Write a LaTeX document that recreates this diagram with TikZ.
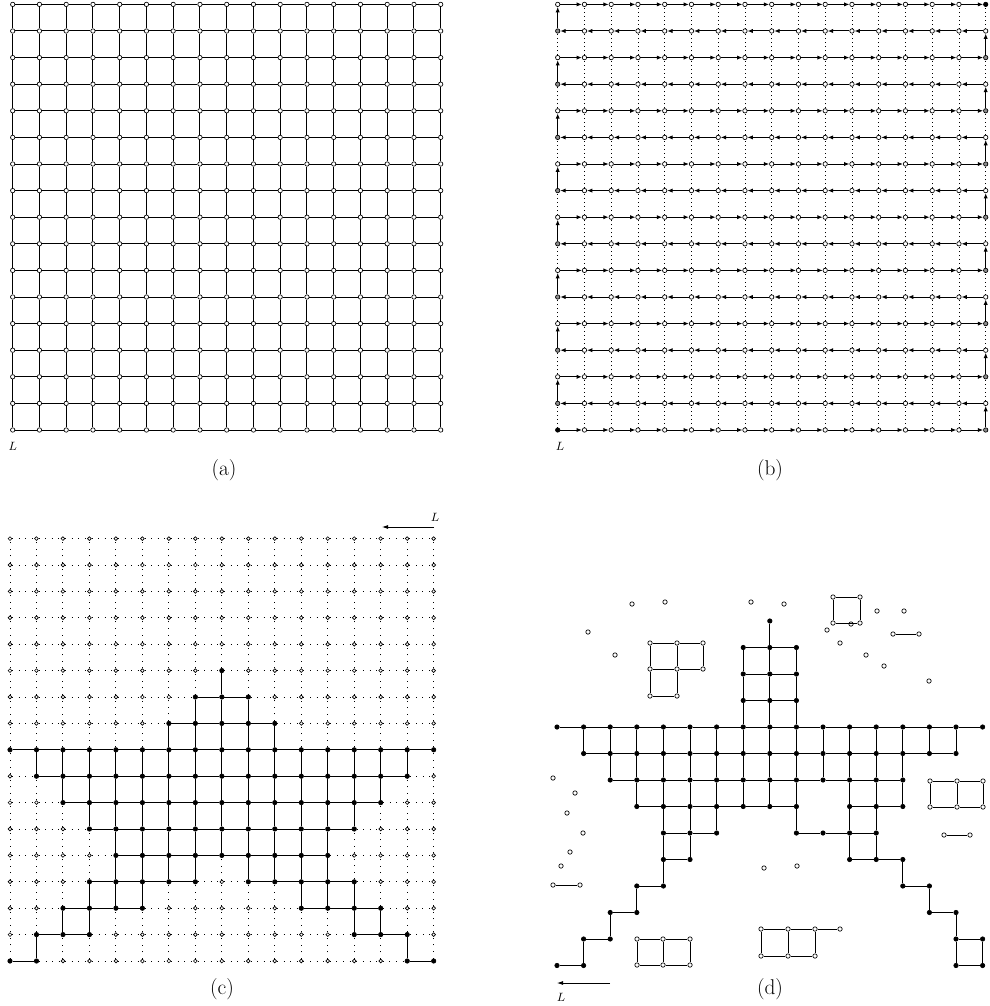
\documentclass[tikz,border=0pt]{standalone}
\usetikzlibrary{arrows.meta}
\begin{document}
\begin{tikzpicture}[x=0.75pt,y=-0.75pt,
  vtx/.style={circle,draw=black,line width=0.5pt,fill=white,inner sep=0pt,minimum size=3.3pt},
  svtx/.style={vtx,minimum size=2.8pt},
  bvtx/.style={vtx,fill=black},
  gvtx/.style={vtx,fill=black!45},
  edge/.style={line width=0.75pt},
  tedge/.style={line width=0.5pt},
  dotx/.style={line width=0.7pt,dash pattern=on 0.7pt off 4.2pt},
  doty/.style={line width=0.6pt,dash pattern=on 0.6pt off 2.4pt},
  arr/.style={edge,-{Latex[length=4pt,width=3.2pt]}},
  larr/.style={line width=0.6pt,-{Latex[length=4.5pt,width=3pt]}},
  panel/.style={font=\fontsize{16}{19}\selectfont},
  lbl/.style={font=\fontsize{9}{11}\selectfont}
]
\useasboundingbox (0,0) rectangle (989,1006);

% ---------------- (a) ----------------
\foreach \i in {0,...,16}{\foreach \j in {0,...,16}{
  \node[vtx] (a-\i-\j) at ({12.7+26.75*\i},{430-26.6*\j}) {};}}
\foreach \i in {0,...,15}{\foreach \j in {0,...,16}{
  \pgfmathtruncatemacro\nx{\i+1}
  \draw[edge] (a-\i-\j) -- (a-\nx-\j);
  \draw[edge] (a-\j-\i) -- (a-\j-\nx);}}
\node[lbl] (La) at (12.7,446) {$L$};
\node[panel] (capa) at (224,470) {(a)};

% ---------------- (b) ----------------
\foreach \i in {0,...,16}{\foreach \j in {0,...,16}{
  \pgfmathtruncatemacro\k{0}
  \ifnum\i=16 \ifodd\j\else\pgfmathtruncatemacro\k{1}\fi\fi
  \ifnum\i=0 \ifodd\j\pgfmathtruncatemacro\k{1}\fi\fi
  \ifnum\i=0 \ifnum\j=0 \pgfmathtruncatemacro\k{2}\fi\fi
  \ifnum\i=16 \ifnum\j=16 \pgfmathtruncatemacro\k{2}\fi\fi
  \ifcase\k
    \node[vtx] (b-\i-\j) at ({557.7+26.75*\i},{430-26.6*\j}) {};
  \or
    \node[gvtx] (b-\i-\j) at ({557.7+26.75*\i},{430-26.6*\j}) {};
  \or
    \node[bvtx] (b-\i-\j) at ({557.7+26.75*\i},{430-26.6*\j}) {};
  \fi}}
\foreach \j in {0,...,16}{\foreach \i in {0,...,15}{
  \pgfmathtruncatemacro\nx{\i+1}
  \ifodd\j \draw[arr] (b-\nx-\j) -- (b-\i-\j);
  \else \draw[arr] (b-\i-\j) -- (b-\nx-\j); \fi}}
\foreach \i in {0,...,16}{\foreach \j in {0,...,15}{
  \pgfmathtruncatemacro\ny{\j+1}
  \pgfmathtruncatemacro\onp{0}
  \ifnum\i=16 \ifodd\j\else\pgfmathtruncatemacro\onp{1}\fi\fi
  \ifnum\i=0 \ifodd\j\pgfmathtruncatemacro\onp{1}\fi\fi
  \ifnum\onp=1 \draw[arr] (b-\i-\j) -- (b-\i-\ny);
  \else \draw[doty] (b-\i-\j) -- (b-\i-\ny); \fi}}
\node[lbl] (Lb) at (560,446) {$L$};
\node[panel] (capb) at (770,470) {(b)};

% ---------------- (c) ----------------
\foreach \j/\a/\b in {0/0/1,0/15/16,1/1/3,1/13/15,2/2/5,2/11/14,3/3/7,3/9/13,
  4/4/12,5/3/13,6/2/14,7/1/15,8/0/16,9/6/10,10/7/9,11/8/8}{
  \foreach \i in {\a,...,\b}{\expandafter\gdef\csname cb-\i-\j\endcsname{x}}}
\foreach \i in {0,...,16}{\foreach \j in {0,...,16}{
  \ifcsname cb-\i-\j\endcsname
    \node[bvtx] (c-\i-\j) at ({10+26.48*\i},{961-26.4*\j}) {};
  \else
    \node[svtx] (c-\i-\j) at ({10+26.48*\i},{961-26.4*\j}) {};
  \fi}}
\foreach \i in {0,...,15}{\foreach \j in {0,...,16}{
  \pgfmathtruncatemacro\nx{\i+1}
  \def\st{0}
  \ifcsname cb-\i-\j\endcsname\ifcsname cb-\nx-\j\endcsname\def\st{1}\fi\fi
  \if1\st \draw[edge] (c-\i-\j) -- (c-\nx-\j); \else \draw[dotx] (c-\i-\j) -- (c-\nx-\j); \fi
  \def\st{0}
  \ifcsname cb-\j-\i\endcsname\ifcsname cb-\j-\nx\endcsname\def\st{1}\fi\fi
  \if1\st \draw[edge] (c-\j-\i) -- (c-\j-\nx); \else \draw[dotx] (c-\j-\i) -- (c-\j-\nx); \fi}}
\coordinate (cLs) at (434,527);
\coordinate (cLe) at (382,527);
\draw[larr] (cLs) -- (cLe);
\node[lbl] (Lc) at (435,517) {$L$};
\node[panel] (capc) at (222,989) {(c)};

% ---------------- (d) ----------------
\foreach \r/\a/\b in {-4/8/8,-3/7/9,-2/7/9,-1/7/9,0/0/16,1/1/15,2/2/13,3/3/9,3/11/13,
  4/4/6,4/9/12,5/4/5,5/11/13,6/3/4,6/13/14,7/2/3,7/14/15,8/1/2,8/15/16,9/0/1,9/15/16}{
  \foreach \i in {\a,...,\b}{\expandafter\gdef\csname db-\i-\r\endcsname{x}
   \node[bvtx] (d-\i-\r) at ({557+26.6*\i},{727+26.5*\r}) {};}}
\foreach \i in {0,...,15}{\foreach \r in {-4,...,9}{
  \pgfmathtruncatemacro\nx{\i+1}
  \ifcsname db-\i-\r\endcsname\ifcsname db-\nx-\r\endcsname
    \draw[edge] (d-\i-\r) -- (d-\nx-\r);\fi\fi}}
\foreach \i in {0,...,16}{\foreach \r in {-4,...,8}{
  \pgfmathtruncatemacro\ny{\r+1}
  \ifcsname db-\i-\r\endcsname\ifcsname db-\i-\ny\endcsname
    \draw[edge] (d-\i-\r) -- (d-\i-\ny);\fi\fi}}
% isolated white vertices
\foreach \x/\y [count=\n] in {632/604,665/602,751/602,784/604,588/632,615/655,
  827/630,851/624,877/611,904/611,840/643,866/655,884/666,929/681,
  553/778,575/793,567/813,583/833,570/852,561/866,764/868,797/866}{
  \node[vtx] (w\n) at (\x,\y) {};}
% top-right square
\node[vtx] (s1) at (833,597) {}; \node[vtx] (s2) at (860,597) {};
\node[vtx] (s3) at (833,623) {}; \node[vtx] (s4) at (860,623) {};
\draw[tedge] (s1)--(s2)--(s4)--(s3)--(s1);
% top-left block
\node[vtx] (t1) at (650,643) {}; \node[vtx] (t2) at (677,643) {}; \node[vtx] (t3) at (703,643) {};
\node[vtx] (t4) at (650,669) {}; \node[vtx] (t5) at (677,669) {}; \node[vtx] (t6) at (703,669) {};
\node[vtx] (t7) at (650,696) {}; \node[vtx] (t8) at (677,696) {};
\draw[tedge] (t1)--(t2)--(t3)--(t6)--(t5)--(t4)--(t1) (t2)--(t5)
  (t4)--(t7)--(t8)--(t5);
% dimers
\node[vtx] (m1) at (893,634) {}; \node[vtx] (m2) at (919,634) {}; \draw[tedge] (m1)--(m2);
\node[vtx] (m3) at (944,835) {}; \node[vtx] (m4) at (970,835) {}; \draw[tedge] (m3)--(m4);
\node[vtx] (m5) at (553,885) {}; \node[vtx] (m6) at (580,885) {}; \draw[tedge] (m5)--(m6);
% right double square
\node[vtx] (r1) at (930,781) {}; \node[vtx] (r2) at (957,781) {}; \node[vtx] (r3) at (983,781) {};
\node[vtx] (r4) at (930,807) {}; \node[vtx] (r5) at (957,807) {}; \node[vtx] (r6) at (983,807) {};
\draw[tedge] (r1)--(r2)--(r3)--(r6)--(r5)--(r4)--(r1) (r2)--(r5);
% bottom double square
\node[vtx] (q1) at (761,929) {}; \node[vtx] (q2) at (788,929) {}; \node[vtx] (q3) at (815,929) {};
\node[vtx] (q4) at (761,956) {}; \node[vtx] (q5) at (788,956) {}; \node[vtx] (q6) at (815,956) {};
\node[vtx] (q7) at (840,929) {};
\draw[tedge] (q1)--(q2)--(q3)--(q6)--(q5)--(q4)--(q1) (q2)--(q5) (q3)--(q7);
% bottom-left white double square
\node[vtx] (p1) at (637,939) {}; \node[vtx] (p2) at (663,939) {}; \node[vtx] (p3) at (690,939) {};
\node[vtx] (p4) at (637,965) {}; \node[vtx] (p5) at (663,965) {}; \node[vtx] (p6) at (690,965) {};
\draw[tedge] (p1)--(p2)--(p3)--(p6)--(p5)--(p4)--(p1) (p2)--(p5);
\coordinate (dLs) at (610,983);
\coordinate (dLe) at (557,983);
\draw[larr] (dLs) -- (dLe);
\node[lbl] (Ld) at (561,997) {$L$};
\node[panel] (capd) at (770,989) {(d)};
\end{tikzpicture}
\end{document}
